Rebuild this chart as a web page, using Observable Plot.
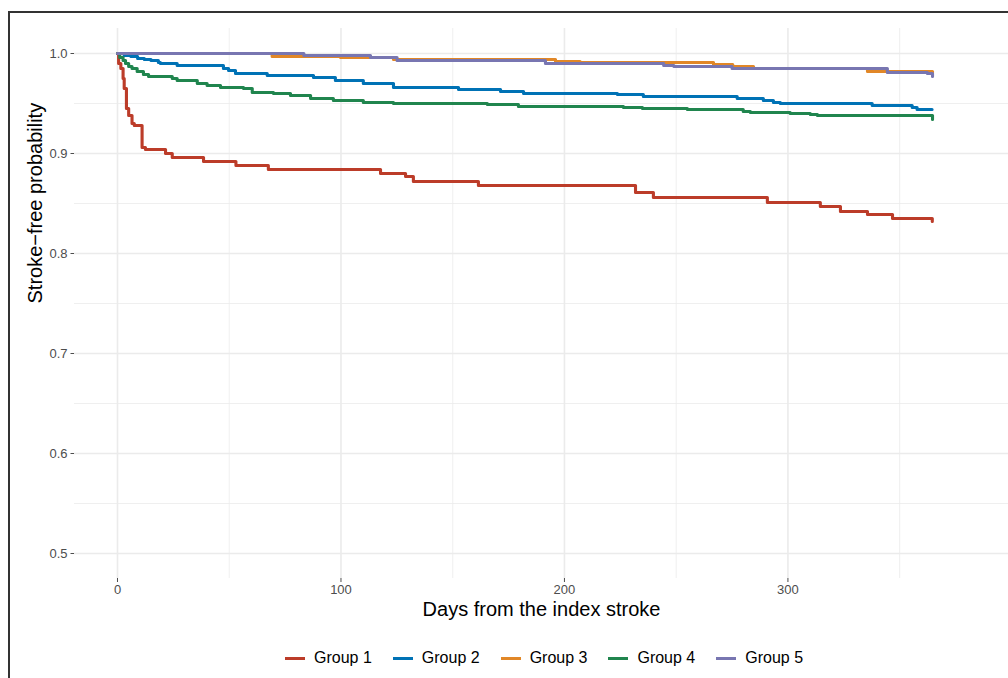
<!DOCTYPE html>
<html>
<head>
<meta charset="utf-8">
<script src="https://cdn.jsdelivr.net/npm/d3@7"></script>
<script src="https://cdn.jsdelivr.net/npm/@observablehq/plot@0.6"></script>
<style>
  html, body { margin: 0; padding: 0; background: #fff; }
  body { width: 1008px; height: 678px; overflow: hidden; position: relative; font-family: "Liberation Sans", Arial, sans-serif; }
  #frame { position: absolute; left: 8px; top: 11px; width: 1200px; height: 900px; border-left: 2px solid #333; border-top: 2px solid #333; pointer-events: none; }
  #chart { position: absolute; left: 0; top: 0; }
  #legend { position: absolute; left: 285px; top: 648px; height: 20px; display: flex; align-items: center; font-size: 16px; color: #000; }
  .item { display: flex; align-items: center; margin-right: 21px; }
  .sw { width: 20px; height: 3px; margin-right: 9px; }
</style>
</head>
<body>
<div id="chart"></div>
<div id="legend"></div>
<div id="frame"></div>
<script>
// ---- data ----
const groups = ["Group 1", "Group 2", "Group 3", "Group 4", "Group 5"];
const colors = ["#BC3C29", "#0072B5", "#E18727", "#20854E", "#7876B1"];

const days1 = [0, 0.5, 1.5, 2.5, 3, 4, 5, 6.5, 7.5, 11, 12.5, 21.5, 24.5, 38.5, 53, 67.5, 117.7, 128.9, 132.4, 161.5, 231.8, 239.8, 290.8, 314.5, 323.5, 335.6, 346.8, 364.6];
const surv1 = [1.0, 0.990, 0.985, 0.975, 0.965, 0.945, 0.938, 0.930, 0.928, 0.906, 0.904, 0.900, 0.896, 0.892, 0.888, 0.884, 0.880, 0.877, 0.872, 0.868, 0.861, 0.856, 0.851, 0.847, 0.842, 0.839, 0.835, 0.832];

const days2 = [0, 3, 6, 9, 12, 15, 18.3, 19.2, 26.7, 47.4, 49.7, 52.8, 67, 87.7, 97.5, 110, 123.5, 152.6, 171.4, 181.7, 223.7, 235.3, 277.3, 289, 293.5, 296.6, 337.7, 355.6, 357.8, 364.5];
const surv2 = [1.0, 0.998, 0.997, 0.995, 0.994, 0.993, 0.991, 0.990, 0.988, 0.985, 0.983, 0.980, 0.978, 0.976, 0.973, 0.970, 0.966, 0.964, 0.962, 0.960, 0.959, 0.957, 0.955, 0.953, 0.951, 0.950, 0.948, 0.946, 0.944, 0.944];

const days3 = [0, 69.2, 99.8, 123.5, 196, 207, 266.7, 275.3, 284.6, 335.6, 364.7];
const surv3 = [1.0, 0.997, 0.996, 0.994, 0.992, 0.991, 0.989, 0.987, 0.985, 0.982, 0.981];

const days4 = [0, 1, 2.5, 3.6, 5, 6.5, 8.8, 11.6, 13.9, 24.5, 26.7, 35.7, 40.1, 46.1, 56.4, 60.3, 69.8, 77.4, 86.4, 96.6, 110, 123.5, 165.5, 179.4, 226.4, 234.9, 255, 280, 283.2, 301, 310, 313.2, 364.7];
const surv4 = [1.0, 0.996, 0.993, 0.990, 0.987, 0.985, 0.982, 0.979, 0.977, 0.975, 0.973, 0.970, 0.968, 0.966, 0.965, 0.961, 0.960, 0.958, 0.955, 0.953, 0.951, 0.950, 0.949, 0.947, 0.946, 0.945, 0.944, 0.942, 0.941, 0.940, 0.939, 0.938, 0.934];

const days5 = [0, 83.4, 113.2, 125.1, 191.5, 244.4, 249, 275, 344.5, 362.4, 364.7];
const surv5 = [1.0, 0.998, 0.996, 0.993, 0.990, 0.988, 0.987, 0.985, 0.981, 0.980, 0.977];

const xTicks = [0, 100, 200, 300];
const xMinor = [50, 150, 250, 350];
const yTicks = [0.5, 0.6, 0.7, 0.8, 0.9, 1.0];
const yMinor = [0.55, 0.65, 0.75, 0.85, 0.95];

const xTitle = "Days from the index stroke";
const yTitle = "Stroke\u2212free probability";

// ---- build table ----
const daysAll = [days1, days2, days3, days4, days5];
const survAll = [surv1, surv2, surv3, surv4, surv5];
const rows = groups.flatMap((g, i) => daysAll[i].map((d, j) => ({group: g, day: d, surv: survAll[i][j]})));

const chart = Plot.plot({
  width: 1008,
  height: 625,
  marginLeft: 74,
  marginRight: 0,
  marginTop: 28,
  marginBottom: 47,
  style: {fontFamily: "'Liberation Sans', Arial, sans-serif", fontSize: "13px", color: "#4d4d4d", background: "transparent"},
  x: {domain: [-19.24, 398.7], ticks: xTicks, tickSize: 4, tickPadding: 2, label: null, tickFormat: d3.format("d")},
  y: {domain: [0.475, 1.025], ticks: yTicks, tickSize: 3.5, tickPadding: 3.5, label: null, tickFormat: d3.format(".1f")},
  color: {domain: groups, range: colors},
  marks: [
    Plot.ruleY(yMinor, {stroke: "#ebebeb", strokeWidth: 0.8}),
    Plot.ruleX(xMinor, {stroke: "#ebebeb", strokeWidth: 0.8}),
    Plot.ruleY(yTicks, {stroke: "#ebebeb", strokeWidth: 1.6}),
    Plot.ruleX(xTicks, {stroke: "#ebebeb", strokeWidth: 1.6}),
    Plot.line(rows, {x: "day", y: "surv", z: "group", stroke: "group", curve: "step-after", strokeWidth: 3.1}),
    Plot.text([xTitle], {text: d => d, frameAnchor: "bottom", dy: 31, lineAnchor: "middle", fontSize: 20, fill: "#000"}),
    Plot.text([yTitle], {text: d => d, frameAnchor: "left", dx: -39, rotate: -90, lineAnchor: "middle", fontSize: 20, fill: "#000"})
  ]
});
document.getElementById("chart").appendChild(chart);

// ---- legend ----
const legend = document.getElementById("legend");
groups.forEach((g, i) => {
  const it = document.createElement("div");
  it.className = "item";
  const sw = document.createElement("span");
  sw.className = "sw";
  sw.style.background = colors[i];
  const tx = document.createElement("span");
  tx.textContent = g;
  it.appendChild(sw);
  it.appendChild(tx);
  legend.appendChild(it);
});
</script>
</body>
</html>
